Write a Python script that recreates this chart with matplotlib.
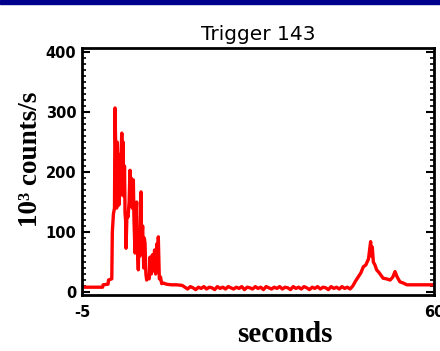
"""Trigger 143 light curve, redrawn from a slide figure."""

import matplotlib

matplotlib.use("Agg")
from matplotlib import pyplot as plt
from matplotlib.patches import Rectangle
from matplotlib.ticker import MultipleLocator

TITLE = "Trigger 143"
X_LABEL = "seconds"
Y_LABEL = "10\u00b3 counts/s"
X_TICKS = [-5, 60]
Y_TICKS = [0, 100, 200, 300, 400]

# pre-burst and main burst (t in s, rate in 10^3 counts/s)
burst_t = [
    -5.0, -1.2, -1.1, -0.2, -0.1, 0.5, 0.6, 0.8, 1.0, 1.1,
    1.3, 1.4, 1.5, 1.6, 1.7, 1.8, 1.9, 2.0, 2.2, 2.35,
    2.5, 2.6, 2.7, 2.85, 2.95, 3.05, 3.13, 3.3, 3.5, 3.7,
    3.86, 4.0, 4.1, 4.3, 4.48, 4.6, 4.79, 4.9, 5.1, 5.2,
    5.4, 5.5, 5.7, 5.9, 6.0, 6.2, 6.4, 6.5, 6.63, 6.8,
    6.94, 7.2, 7.4, 7.56, 7.8, 8.0, 8.17, 8.4, 8.6, 8.8,
    9.0, 9.09, 9.28, 9.5, 9.71, 10.0, 10.6, 11.5, 12.5, 13.5,
]
burst_c = [
    8, 8, 12, 13, 20, 22, 100, 130, 140, 307,
    200, 140, 250, 150, 230, 145, 220, 160, 230, 265,
    200, 250, 160, 210, 131, 120, 73, 130, 125, 150,
    203, 150, 190, 140, 187, 120, 65, 120, 150, 80,
    37, 90, 60, 167, 80, 110, 40, 90, 82, 30,
    20, 25, 22, 58, 30, 62, 35, 70, 30, 80,
    40, 92, 22, 25, 14, 15, 13, 12, 12, 11,
]

# quiet interval between the two episodes
quiet_t = [
    14.0, 14.5, 15.0, 15.5, 16.0, 16.5, 17.0, 17.5, 18.0, 18.5,
    19.0, 19.5, 20.0, 20.5, 21.0, 21.5, 22.0, 22.5, 23.0, 23.5,
    24.0, 24.5, 25.0, 25.5, 26.0, 26.5, 27.0, 27.5, 28.0, 28.5,
    29.0, 29.5, 30.0, 30.5, 31.0, 31.5, 32.0, 32.5, 33.0, 33.5,
    34.0, 34.5, 35.0, 35.5, 36.0, 36.5, 37.0, 37.5, 38.0, 38.5,
    39.0, 39.5, 40.0, 40.5, 41.0, 41.5, 42.0, 42.5, 43.0, 43.5,
    44.0, 44.5,
]
quiet_c = [
    8, 5, 9, 7, 4, 8, 6, 9, 5, 8,
    7, 4, 9, 6, 8, 5, 9, 7, 5, 8,
    6, 9, 4, 8, 7, 5, 9, 6, 8, 4,
    9, 7, 5, 8, 6, 9, 5, 8, 7, 4,
    9, 6, 8, 5, 9, 7, 4, 8, 6, 9,
    5, 8, 7, 4, 9, 6, 8, 5, 9, 6,
    8, 5,
]

# second, softer episode and tail
late_t = [
    45.0, 45.5, 46.0, 46.5, 46.95, 47.4, 47.9, 48.1, 48.3, 48.45,
    48.6, 48.8, 49.1, 49.4, 49.8, 50.2, 50.6, 51.2, 51.9, 52.4,
    52.8, 53.2, 53.7, 54.3, 55.0, 57.0, 60.0,
]
late_c = [
    10, 18, 25, 32, 42, 45, 55, 70, 84, 60,
    75, 50, 45, 37, 33, 28, 23, 22, 20, 25,
    34, 25, 17, 15, 12, 12, 12,
]


def main() -> int:
    t = burst_t + quiet_t + late_t
    c = burst_c + quiet_c + late_c

    plt.rcParams["axes.unicode_minus"] = False
    fig = plt.figure(figsize=(4.4, 3.51), dpi=100)
    fig.patches.append(
        Rectangle((0, 1 - 4 / 351), 1, 4 / 351, transform=fig.transFigure,
                  color="#00008c", zorder=0)
    )
    ax = fig.add_axes([82 / 440, 56 / 351, 352 / 440, 247 / 351])
    ax.plot(t, c, color="#ff0000", linewidth=2.4)

    ax.set_xlim(-5, 60)
    ax.set_ylim(-5, 407)
    ax.set_xticks(X_TICKS)
    ax.set_xticklabels([str(v) for v in X_TICKS])
    ax.set_yticks(Y_TICKS)
    ax.set_yticklabels([str(v) for v in Y_TICKS])
    ax.yaxis.set_minor_locator(MultipleLocator(10))
    ax.tick_params(axis="x", length=0, pad=7, labelsize=10.5)
    ax.tick_params(axis="y", which="major", direction="in", length=6, width=1.5,
                   right=True, pad=4, labelsize=10.5)
    ax.tick_params(axis="y", which="minor", direction="in", length=3, width=1.2,
                   right=True)
    for label in ax.get_xticklabels() + ax.get_yticklabels():
        label.set_fontweight("bold")
    for spine in ax.spines.values():
        spine.set_linewidth(2)

    ax.set_title(TITLE, fontsize=14.5, pad=6)
    ax.set_xlabel(X_LABEL, family="Liberation Serif", fontweight="bold", fontsize=21)
    ax.set_ylabel(Y_LABEL, family="Liberation Serif", fontweight="bold", fontsize=19.5)
    ax.xaxis.set_label_coords(0.577, -0.105)
    ax.yaxis.set_label_coords(-0.11, 0.55)

    fig.savefig("out.png", dpi=100)
    return 0


if __name__ == "__main__":
    raise SystemExit(main())
